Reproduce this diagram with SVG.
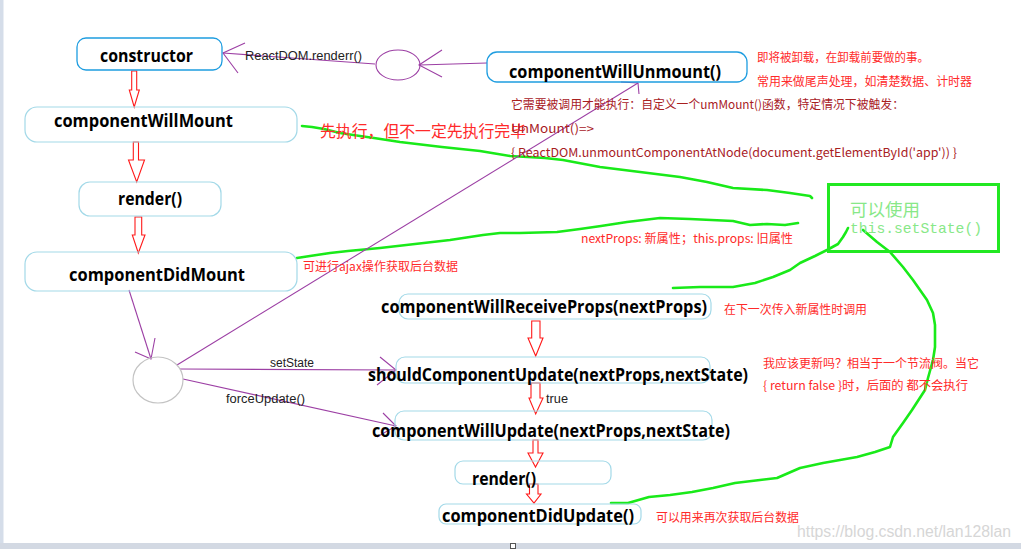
<svg xmlns="http://www.w3.org/2000/svg" width="1021" height="549" viewBox="0 0 1021 549">
<style>
.box{fill:none;stroke:#a3d9e8;stroke-width:1.2}
.boxb{fill:none;stroke:#1e9de0;stroke-width:1.3}
.t{font-family:"Open Sans","Liberation Sans",sans-serif;font-weight:700;font-size:17px;fill:#000}
.r{font-family:"Noto Sans CJK SC",sans-serif;font-size:12px;fill:#ff2a2a}
.dr{font-family:"Noto Sans CJK SC",sans-serif;font-size:12px;fill:#a8201f}
.p{fill:none;stroke:#9c3fa4;stroke-width:1.1}
.pl{font-family:"Liberation Sans",sans-serif;font-size:12px;fill:#222}
.ra{fill:#fff;stroke:#ff1a1a;stroke-width:1.1}
.g{fill:none;stroke:#19ea19;stroke-width:2.6;stroke-linecap:round;stroke-linejoin:round}
.gt{font-family:"Noto Sans CJK SC",sans-serif;font-size:17.5px;fill:#88e888}
.gm{font-family:"Liberation Mono",monospace;font-size:14.6px;fill:#88e888}
</style>
<rect x="0" y="0" width="1021" height="549" fill="#fff"/>
<rect x="0" y="0" width="3.5" height="549" fill="#d5dde9"/>
<rect x="0" y="543" width="1021" height="6" fill="#d3d9e3"/>
<rect x="510.5" y="543.5" width="5" height="5" fill="#fff" stroke="#555" stroke-width="1"/>

<g id="annotations-green">
<polyline class="g" points="302,126 312,127 324,129 340,133 360,136 374,138 400,142 442,147 480,151 510,156 545,158 563,160 600,167 640,172 680,177 707,182 733,188 767,190 790,193 810,196 812,198"/>
<polyline class="g" points="297,258 310,256 330,253 348,251 380,248 415,244 450,240 483,235 500,233 520,233 557,232 580,229 601,226 627,222 660,218 690,219 733,221 750,225 767,224 785,225 798,223"/>
<polyline class="g" points="673,288 700,287 733,287 755,283 773,277 790,270 800,263 815,256 827,250 838,244 843,237 846,232 848,228"/>
<polyline class="g" points="863,230 877,242 890,252 903,267 913,280 920,290 927,300 933,313 935,325 935,347 933,360 928,378 925,390 912,410 903,423 893,437 890,447 875,452 857,457 840,460 823,463 800,468 777,478 760,480 735,483 713,488 692,492 670,495 649,497 628,503 611,503"/>
<rect x="828.5" y="184.5" width="170" height="67" fill="none" stroke="#22e822" stroke-width="3"/>
<text class="gt" x="850" y="216">可以使用</text>
<text class="gm" x="850" y="233" textLength="132" lengthAdjust="spacingAndGlyphs">this.setState()</text>
</g>

<g id="connectors">
<polyline class="p" points="487,63 419,65"/>
<polyline class="p" points="442,50 419,65 442,77"/>
<polyline class="p" points="375,64 223,53"/>
<polyline class="p" points="245,43 223,53 238,73"/>
<text class="pl" x="245" y="60" textLength="117" lengthAdjust="spacingAndGlyphs">ReactDOM.renderr()</text>
<polyline class="p" points="129,290 151,359"/>
<polyline class="p" points="135,352 151,359 155,338"/>
<polyline class="p" points="177,365 638,83"/>
<polyline class="p" points="639,94 638,83 621,82"/>
<polyline class="p" points="180,369 396,370"/>
<polyline class="p" points="380,357 396,370 377,385"/>
<text class="pl" x="270" y="367" textLength="44" lengthAdjust="spacingAndGlyphs">setState</text>
<polyline class="p" points="183,379 396,426"/>
<polyline class="p" points="383,413 396,426 377,437"/>
<text class="pl" x="226" y="403" textLength="79" lengthAdjust="spacingAndGlyphs">forceUpdate()</text>
<polygon class="ra" points="131.7,71 136.7,71 136.7,90 139.3,90 134.2,107 129.3,90 131.7,90"/>
<polygon class="ra" points="133.3,142 138.5,142 138.5,160 144.5,160 136.7,182 128.5,160 133.3,160"/>
<polygon class="ra" points="135,217 141.7,217 141.7,235 145,235 138.3,253 132.3,235 135,235"/>
<polygon class="ra" points="531.7,321 540,321 540,338 543,338 535.7,356 528,338 531.7,338"/>
<polygon class="ra" points="531,383 540,383 540,398 543,398 535.7,414 529,398 531,398"/>
<text class="pl" x="546" y="403" textLength="22" lengthAdjust="spacingAndGlyphs">true</text>
<polygon class="ra" points="533,440 538,440 538,453 543,453 535.5,467 528,453 533,453"/>
<polygon class="ra" points="529.5,484 538,484 538,494 541,494 534,503 526.5,494 529.5,494"/>
</g>

<g id="node-constructor"><rect class="boxb" x="77" y="38" width="145" height="32" rx="9"/><text class="t" x="100" y="62" textLength="93" lengthAdjust="spacingAndGlyphs">constructor</text></g>
<g id="node-componentWillMount"><rect class="box" x="25" y="107" width="272" height="35" rx="12"/><text class="t" x="54" y="127" textLength="179" lengthAdjust="spacingAndGlyphs">componentWillMount</text></g>
<g id="node-render"><rect class="box" x="79" y="182" width="142" height="34" rx="11"/><text class="t" x="118" y="205" textLength="64" lengthAdjust="spacingAndGlyphs">render()</text></g>
<g id="node-componentDidMount"><rect class="box" x="25" y="252" width="272" height="39" rx="12"/><text class="t" x="69" y="281" textLength="176" lengthAdjust="spacingAndGlyphs">componentDidMount</text></g>
<g id="node-componentWillUnmount"><rect class="boxb" x="487" y="52" width="260" height="30" rx="10"/><text class="t" x="509" y="78" textLength="212" lengthAdjust="spacingAndGlyphs">componentWillUnmount()</text></g>
<g id="node-renderdom"><ellipse cx="398" cy="65" rx="22" ry="15" class="p"/></g>
<g id="node-state"><ellipse cx="158" cy="380" rx="25" ry="23" fill="none" stroke="#c3c3c3" stroke-width="1.2"/></g>
<g id="node-componentWillReceiveProps"><rect class="box" x="399" y="294" width="312" height="25" rx="9"/><text class="t" x="381" y="313" textLength="326" lengthAdjust="spacingAndGlyphs">componentWillReceiveProps(nextProps)</text></g>
<g id="node-shouldComponentUpdate"><rect class="box" x="396" y="357" width="314" height="26" rx="9"/><text class="t" x="368" y="381" textLength="380" lengthAdjust="spacingAndGlyphs">shouldComponentUpdate(nextProps,nextState)</text></g>
<g id="node-componentWillUpdate"><rect class="box" x="395" y="411" width="317" height="29" rx="9"/><text class="t" x="372" y="437" textLength="358" lengthAdjust="spacingAndGlyphs">componentWillUpdate(nextProps,nextState)</text></g>
<g id="node-render2"><rect class="box" x="455" y="461" width="156" height="23" rx="8"/><text class="t" x="472" y="485" textLength="64" lengthAdjust="spacingAndGlyphs">render()</text></g>
<g id="node-componentDidUpdate"><rect class="box" x="439" y="504" width="202" height="20" rx="7"/><text class="t" x="442" y="522" textLength="192" lengthAdjust="spacingAndGlyphs">componentDidUpdate()</text></g>

<g id="notes">
<text class="r" x="757" y="62" textLength="172" lengthAdjust="spacingAndGlyphs">即将被卸载，在卸载前要做的事。</text>
<text class="r" x="757" y="86" textLength="215" lengthAdjust="spacingAndGlyphs">常用来做尾声处理，如清楚数据、计时器</text>
<text class="dr" x="511" y="109" textLength="393" lengthAdjust="spacingAndGlyphs">它需要被调用才能执行：自定义一个umMount()函数，特定情况下被触发：</text>
<text class="r" x="320" y="137" style="font-size:16px" textLength="206" lengthAdjust="spacingAndGlyphs">先执行，但不一定先执行完毕</text>
<text class="dr" x="511" y="133" textLength="83" lengthAdjust="spacingAndGlyphs">UnMount()=&gt;</text>
<text class="dr" x="511" y="157" textLength="446" lengthAdjust="spacingAndGlyphs">{ ReactDOM.unmountComponentAtNode(document.getElementById('app')) }</text>
<text class="r" x="303" y="271" textLength="155" lengthAdjust="spacingAndGlyphs">可进行ajax操作获取后台数据</text>
<text class="r" x="581" y="243" textLength="212" lengthAdjust="spacingAndGlyphs">nextProps: 新属性；this.props: 旧属性</text>
<text class="r" x="724" y="314" textLength="143" lengthAdjust="spacingAndGlyphs">在下一次传入新属性时调用</text>
<text class="r" x="763" y="368" textLength="216" lengthAdjust="spacingAndGlyphs">我应该更新吗？相当于一个节流阀。当它</text>
<text class="r" x="763" y="390" textLength="205" lengthAdjust="spacingAndGlyphs">{ return false }时，后面的 都不会执行</text>
<text class="r" x="656" y="522" textLength="143" lengthAdjust="spacingAndGlyphs">可以用来再次获取后台数据</text>
<text x="797" y="537" font-family="Liberation Sans, sans-serif" font-size="16" fill="#d6d6d6" textLength="214" lengthAdjust="spacingAndGlyphs">https://blog.csdn.net/lan128lan</text>
</g>
</svg>
